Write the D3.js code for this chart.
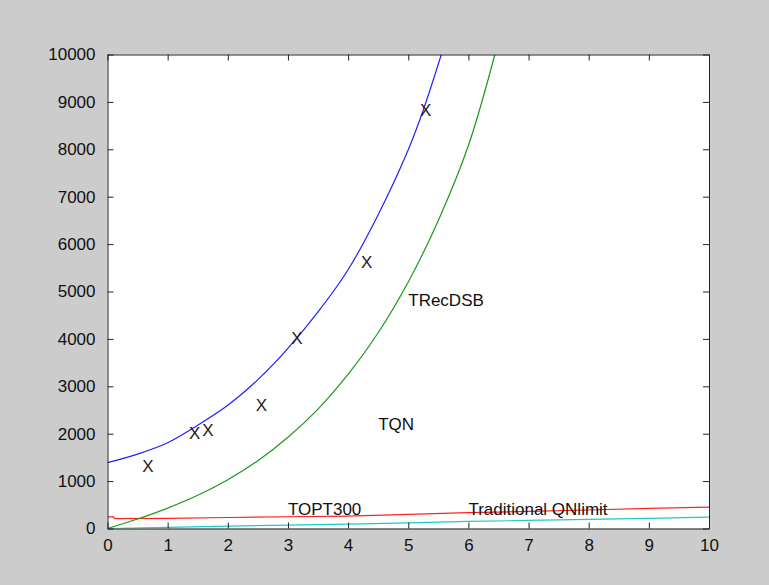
<!DOCTYPE html>
<html>
<head>
<meta charset="utf-8">
<script src="https://cdn.jsdelivr.net/npm/d3@7"></script>
<style>
  html, body { margin: 0; padding: 0; background: #cccccc; }
  svg { display: block; }
  text { font-family: "Liberation Sans", Arial, sans-serif; }
</style>
</head>
<body>
<svg id="chart" width="769" height="585"></svg>
<script>
// ---- data ----
const xTicks = [0, 1, 2, 3, 4, 5, 6, 7, 8, 9, 10];
const yTicks = [0, 1000, 2000, 3000, 4000, 5000, 6000, 7000, 8000, 9000, 10000];

// blue curve
const blueX = [0, 0.5, 1, 1.5, 2, 2.5, 3, 3.5, 4, 4.5, 5, 5.25, 5.55];
const blueY = [1390, 1570, 1810, 2180, 2600, 3140, 3800, 4570, 5460, 6620, 7990, 8830, 10000];

// green curve
const greenX = [0, 0.5, 1, 1.5, 2, 2.5, 3, 3.5, 4, 4.5, 5, 5.5, 6, 6.44];
const greenY = [0, 200, 430, 700, 1030, 1430, 1925, 2520, 3250, 4130, 5200, 6500, 8080, 10000];

// red line (Traditional QNlimit)
const redX = [0, 0.1, 0.12, 1, 2, 3, 4, 5, 6, 7, 8, 9, 10];
const redY = [245, 245, 208, 215, 232, 248, 262, 298, 335, 360, 390, 425, 450];

// cyan line (TOPT300)
const cyanX = [0, 1, 2, 3, 4, 5, 6, 7, 8, 9, 10];
const cyanY = [0, 25, 50, 70, 92, 118, 150, 170, 192, 212, 240];

// measured points marked with X
const markX = [0.67, 1.45, 1.67, 2.56, 3.15, 4.31, 5.29];
const markY = [1316, 2005, 2076, 2590, 3998, 5603, 8813];

// text labels
const labelText = ["TRecDSB", "TQN", "TOPT300", "Traditional QNlimit"];
const labelX = [5.0, 4.5, 3.0, 6.0];
const labelY = [4800, 2200, 400, 400];

// ---- drawing ----
const svg = d3.select("#chart");
const pLeft = 107.5, pRight = 709, pTop = 54.5, pBottom = 528.5;

const x = d3.scaleLinear().domain([0, 10]).range([pLeft, pRight]);
const y = d3.scaleLinear().domain([0, 10000]).range([pBottom, pTop]);

svg.append("rect").attr("x", 0).attr("y", 0).attr("width", 769).attr("height", 585).attr("fill", "#cccccc");
svg.append("rect").attr("x", pLeft).attr("y", pTop).attr("width", pRight - pLeft).attr("height", pBottom - pTop).attr("fill", "#ffffff");

svg.append("clipPath").attr("id", "clip").append("rect")
  .attr("x", pLeft).attr("y", pTop).attr("width", pRight - pLeft).attr("height", pBottom - pTop);

const plot = svg.append("g").attr("clip-path", "url(#clip)");

function drawSeries(xs, ys, color, smooth) {
  const pts = xs.map((v, i) => [v, ys[i]]);
  const line = d3.line().x(d => x(d[0])).y(d => y(d[1]))
    .curve(smooth ? d3.curveCatmullRom.alpha(0.5) : d3.curveLinear);
  plot.append("path").datum(pts).attr("d", line)
    .attr("fill", "none").attr("stroke", color).attr("stroke-width", 1.2);
}
drawSeries(cyanX, cyanY, "#20c8c8", false);
drawSeries(redX, redY, "#ff2020", false);
drawSeries(greenX, greenY, "#1a9a1a", true);
drawSeries(blueX, blueY, "#2020ff", true);

// axes (MATLAB-style box with inward ticks)
const axisColor = "#222";
const tickLen = 6;
const axB = d3.axisBottom(x).tickValues(xTicks).tickSizeInner(-tickLen).tickSizeOuter(0).tickPadding(10);
const axT = d3.axisTop(x).tickValues(xTicks).tickSizeInner(-tickLen).tickSizeOuter(0).tickFormat("");
const axL = d3.axisLeft(y).tickValues(yTicks).tickSizeInner(-tickLen).tickSizeOuter(0).tickPadding(12).tickFormat(d3.format("d"));
const axR = d3.axisRight(y).tickValues(yTicks).tickSizeInner(-tickLen).tickSizeOuter(0).tickFormat("");

function styleAxis(g) {
  g.selectAll("path").attr("stroke", axisColor).attr("stroke-width", 1);
  g.selectAll("line").attr("stroke", axisColor).attr("stroke-width", 1);
  g.selectAll("text").attr("fill", "#111").style("font-size", "17px")
    .style("font-family", "'Liberation Sans', Arial, sans-serif");
}
svg.append("g").attr("transform", `translate(0,${pBottom})`).call(axB).call(styleAxis);
svg.append("g").attr("transform", `translate(0,${pTop})`).call(axT).call(styleAxis);
svg.append("g").attr("transform", `translate(${pLeft},0)`).call(axL).call(styleAxis);
svg.append("g").attr("transform", `translate(${pRight},0)`).call(axR).call(styleAxis);

// X markers
svg.append("g").selectAll("text").data(markX.map((v, i) => [v, markY[i]])).join("text")
  .attr("x", d => x(d[0])).attr("y", d => y(d[1]))
  .attr("text-anchor", "middle").attr("dominant-baseline", "central")
  .style("font-size", "17px").attr("fill", "#222").text("X");

// labels
svg.append("g").selectAll("text").data(labelText).join("text")
  .attr("x", (d, i) => x(labelX[i])).attr("y", (d, i) => y(labelY[i]))
  .attr("dominant-baseline", "central")
  .style("font-size", "17px").attr("fill", "#111").text(d => d);
</script>
</body>
</html>
